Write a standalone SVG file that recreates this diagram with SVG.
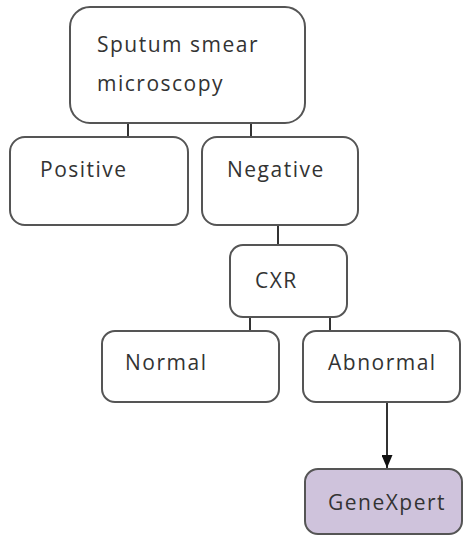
<svg xmlns="http://www.w3.org/2000/svg" width="465" height="536" viewBox="0 0 465 536">
<defs>
<style>
.box{fill:#ffffff;stroke:#555555;stroke-width:2}
.gx{fill:#cfc3dc;stroke:#555555;stroke-width:2}
.t{font-family:"Open Sans","Liberation Sans",sans-serif;font-size:21px;letter-spacing:1.5px;fill:#333333}
.c{stroke:#333333;stroke-width:2;fill:none}
</style>
<marker id="ah" markerWidth="13" markerHeight="11" refX="13" refY="5.5" orient="auto" markerUnits="userSpaceOnUse" viewBox="0 0 13 11">
<path d="M0,0 L13,5.5 L0,11 Z" fill="#111111"/>
</marker>
</defs>
<rect width="465" height="536" fill="#ffffff"/>
<g id="connectors">
<line class="c" x1="128" y1="123" x2="128" y2="137"/>
<line class="c" x1="251" y1="123" x2="251" y2="137"/>
<line class="c" x1="278" y1="225" x2="278" y2="245"/>
<line class="c" x1="250" y1="317" x2="250" y2="331"/>
<line class="c" x1="330" y1="317" x2="330" y2="331"/>
<line class="c" x1="387" y1="402" x2="387" y2="468" marker-end="url(#ah)"/>
</g>
<g id="sputum">
<rect class="box" x="70" y="7" width="235" height="116" rx="20"/>
<text class="t" x="97" y="52">Sputum smear</text>
<text class="t" x="97" y="91">microscopy</text>
</g>
<g id="positive">
<rect class="box" x="10" y="137" width="178" height="88" rx="15"/>
<text class="t" x="40" y="177">Positive</text>
</g>
<g id="negative">
<rect class="box" x="202" y="137" width="156" height="88" rx="15"/>
<text class="t" x="227" y="177">Negative</text>
</g>
<g id="cxr">
<rect class="box" x="230" y="245" width="117" height="72" rx="13"/>
<text class="t" x="255" y="288">CXR</text>
</g>
<g id="normal">
<rect class="box" x="102" y="331" width="177" height="71" rx="13"/>
<text class="t" x="125" y="370">Normal</text>
</g>
<g id="abnormal">
<rect class="box" x="303" y="331" width="157" height="71" rx="13"/>
<text class="t" x="328" y="370">Abnormal</text>
</g>
<g id="genexpert">
<rect class="gx" x="305" y="469" width="157" height="65" rx="13"/>
<text class="t" x="328" y="510">GeneXpert</text>
</g>
</svg>
